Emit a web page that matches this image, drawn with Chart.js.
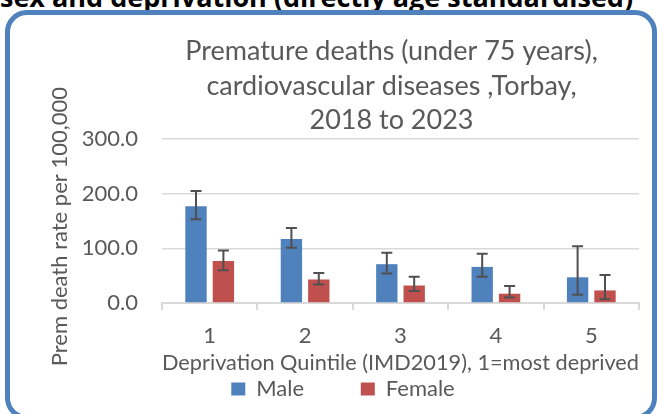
<!DOCTYPE html>
<html>
<head>
<meta charset="utf-8">
<script src="https://cdn.jsdelivr.net/npm/chart.js@4.4.1/dist/chart.umd.min.js"></script>
<style>
  html, body { margin: 0; padding: 0; background: #fff; }
  #wrap { position: relative; width: 657px; height: 414px; overflow: hidden; }
  #heading {
    position: absolute; left: 0; top: -20px; white-space: nowrap;
    font: bold 27px 'Open Sans', sans-serif; color: #000; line-height: 34px;
  }
  #frame {
    position: absolute; left: 5px; top: 10px; width: 652px; height: 410px;
    box-sizing: border-box; border: 5px solid #4F81BD; border-radius: 22px;
  }
  #graph { position: absolute; left: 0; top: 0; }
</style>
</head>
<body>
<div id="wrap">
  <div id="heading">sex and deprivation (directly age standardised)</div>
  <div id="frame"></div>
  <canvas id="graph" width="657" height="414"></canvas>
</div>
<script>
const titleLines = ['Premature deaths (under 75 years),', 'cardiovascular diseases ,Torbay,', '2018 to 2023'];
const quintiles = ['1', '2', '3', '4', '5'];
const yTicks = [0, 100, 200, 300];

const male = [177, 117, 71, 66, 47];
const maleLower = [153, 101, 54, 48, 15];
const maleUpper = [205, 137, 92, 90, 104];

const female = [77, 43, 32, 17, 23];
const femaleLower = [60, 34, 22, 10, 7];
const femaleUpper = [96, 55, 48, 31, 51];

const grey = '#595959';
const font = 'Lato';

const canvas = document.getElementById('graph');
const ctx = canvas.getContext('2d');

// draws the confidence intervals on top of the bars
const errorBars = {
  id: 'errorBars',
  afterDatasetsDraw(chart) {
    const y = chart.scales.y;
    const c = chart.ctx;
    c.save();
    c.strokeStyle = '#505050';
    c.lineWidth = 2;
    chart.data.datasets.forEach((ds, i) => {
      const meta = chart.getDatasetMeta(i);
      meta.data.forEach((bar, j) => {
        const top = y.getPixelForValue(ds.upper[j]);
        const bottom = y.getPixelForValue(ds.lower[j]);
        c.beginPath();
        c.moveTo(bar.x, top);
        c.lineTo(bar.x, bottom);
        c.moveTo(bar.x - 5.5, top);
        c.lineTo(bar.x + 5.5, top);
        c.moveTo(bar.x - 5.5, bottom);
        c.lineTo(bar.x + 5.5, bottom);
        c.stroke();
      });
    });
    c.restore();
  }
};

// title sits a little left of the plot centre, like the original
const chartTitle = {
  id: 'chartTitle',
  afterDraw(chart) {
    const area = chart.chartArea;
    const c = chart.ctx;
    c.save();
    c.fillStyle = grey;
    c.font = '27px ' + font;
    c.textAlign = 'center';
    c.textBaseline = 'alphabetic';
    const cx = (area.left + area.right) / 2 - 9;
    titleLines.forEach((line, i) => {
      c.fillText(line, cx, area.top - 79 + i * 34.5);
    });
    c.restore();
  }
};

new Chart(ctx, {
  type: 'bar',
  data: {
    labels: quintiles,
    datasets: [
      { label: 'Male', data: male, lower: maleLower, upper: maleUpper,
        backgroundColor: '#4F81BD', borderWidth: 0 },
      { label: 'Female', data: female, lower: femaleLower, upper: femaleUpper,
        backgroundColor: '#C0504D', borderWidth: 0 }
    ]
  },
  options: {
    responsive: false,
    animation: false,
    categoryPercentage: 0.574,
    barPercentage: 0.78,
    layout: { padding: { left: 47, right: 18, top: 139, bottom: 4 } },
    plugins: {
      title: { display: false },
      tooltip: { enabled: false },
      legend: {
        position: 'bottom',
        labels: {
          color: grey,
          font: { family: font, size: 22 },
          boxWidth: 14,
          boxHeight: 13,
          padding: 6,
          generateLabels(chart) {
            const items = Chart.defaults.plugins.legend.labels.generateLabels(chart);
            items[0].text = items[0].text + '         ';
            items.forEach(it => { it.lineWidth = 0; });
            return items;
          }
        }
      }
    },
    scales: {
      x: {
        afterFit(scale) {
          scale.height = 69;
        },
        grid: { display: true, drawOnChartArea: false, color: '#d9d9d9', lineWidth: 2, tickLength: 7 },
        border: { display: true, color: '#d9d9d9', width: 2 },
        ticks: { color: grey, font: { family: font, size: 22, lineHeight: 1 }, padding: 15 },
        title: {
          display: true,
          text: 'Deprivation Quintile (IMD2019), 1=most deprived',
          color: grey,
          font: { family: font, size: 22, lineHeight: 0.8 },
          padding: 0
        }
      },
      y: {
        min: 0,
        max: 300,
        afterBuildTicks(scale) {
          scale.ticks = yTicks.map(v => ({ value: v }));
        },
        afterFit(scale) {
          scale.width = 115;
        },
        grid: { color: '#d9d9d9', lineWidth: 1.5, drawTicks: false },
        border: { display: false },
        ticks: {
          color: grey,
          font: { family: font, size: 22 },
          padding: 24,
          callback: v => v.toFixed(1)
        },
        title: {
          display: true,
          text: 'Prem death rate per 100,000  ',
          color: grey,
          font: { family: font, size: 22 },
          padding: { top: 0, bottom: 0 }
        }
      }
    }
  },
  plugins: [errorBars, chartTitle]
});
</script>
</body>
</html>
